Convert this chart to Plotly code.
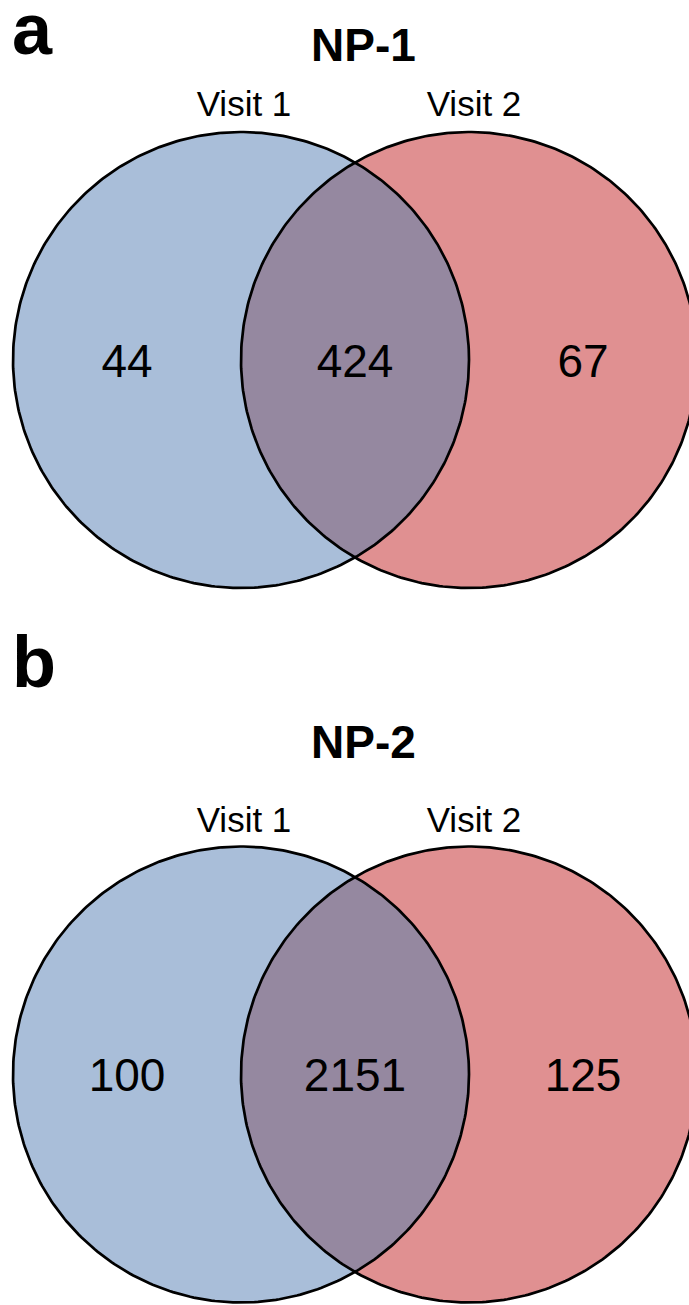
import numpy as np
import plotly.graph_objects as go

# ---- data ----
panel_letters = ["a", "b"]
panel_titles = ["NP-1", "NP-2"]
set_labels = ["Visit 1", "Visit 2"]
left_only = [44, 100]
shared = [424, 2151]
right_only = [67, 125]

# ---- styling / geometry (pixel-like data units) ----
W, H = 689, 1305
R = 228
CX_L, CX_R = 241, 469
CY = [360, 1074.5]
TITLE_Y = [45, 742]
LABEL_Y = [107, 823]
LETTER_Y = [29, 662]
BLUE = "rgb(169,190,217)"
RED = "rgb(224,144,145)"
MIX = "rgb(149,136,160)"
FONT = "Liberation Sans, Arial, Helvetica, sans-serif"

fig = go.Figure()

t = np.linspace(0, 2 * np.pi, 400)


def circle(cx, cy):
    return cx + R * np.cos(t), cy + R * np.sin(t)


def lens(cy):
    d = CX_R - CX_L
    a = d / 2
    h = np.sqrt(R**2 - a**2)
    ang = np.arcsin(h / R)
    a1 = np.linspace(-ang, ang, 200)
    x1 = CX_L + R * np.cos(a1)
    y1 = cy + R * np.sin(a1)
    a2 = np.linspace(np.pi - ang, np.pi + ang, 200)
    x2 = CX_R + R * np.cos(a2)
    y2 = cy + R * np.sin(a2)
    return np.concatenate([x1, x2]), np.concatenate([y1, y2])


annotations = []
for i in range(2):
    cy = CY[i]
    xl, yl = circle(CX_L, cy)
    xr, yr = circle(CX_R, cy)
    xm, ym = lens(cy)
    fig.add_trace(go.Scatter(x=xl, y=yl, fill="toself", fillcolor=BLUE, mode="none", hoverinfo="skip"))
    fig.add_trace(go.Scatter(x=xr, y=yr, fill="toself", fillcolor=RED, mode="none", hoverinfo="skip"))
    fig.add_trace(go.Scatter(x=xm, y=ym, fill="toself", fillcolor=MIX, mode="none", hoverinfo="skip"))
    for xs, ys in ((xl, yl), (xr, yr)):
        fig.add_trace(go.Scatter(x=xs, y=ys, mode="lines", line=dict(color="black", width=2.7), hoverinfo="skip"))

    left_edge_r = CX_R - R
    right_edge_l = CX_L + R
    xpos = [((CX_L - R) + left_edge_r) / 2, (CX_L + CX_R) / 2, (right_edge_l + CX_R + R) / 2]
    vals = [left_only[i], shared[i], right_only[i]]
    fig.add_trace(go.Scatter(
        x=xpos, y=[cy + 5] * 3, mode="text", text=[str(v) for v in vals],
        textfont=dict(family=FONT, size=46, color="black"), hoverinfo="skip"))
    fig.add_trace(go.Scatter(
        x=[244, 474], y=[LABEL_Y[i]] * 2, mode="text", text=set_labels,
        textfont=dict(family=FONT, size=35, color="black"), hoverinfo="skip"))
    annotations.append(dict(x=363, y=TITLE_Y[i], xref="x", yref="y", text="<b>%s</b>" % panel_titles[i],
                            showarrow=False, font=dict(family=FONT, size=46, color="black"),
                            xanchor="center", yanchor="middle"))
    annotations.append(dict(x=10, y=LETTER_Y[i], xref="x", yref="y", text="<b>%s</b>" % panel_letters[i],
                            showarrow=False, font=dict(family=FONT, size=72, color="black"),
                            xanchor="left", yanchor="middle"))

fig.update_layout(
    width=W, height=H, margin=dict(l=0, r=0, t=0, b=0),
    paper_bgcolor="white", plot_bgcolor="white", showlegend=False,
    xaxis=dict(range=[0, W], visible=False, fixedrange=True),
    yaxis=dict(range=[H, 0], visible=False, fixedrange=True),
    annotations=annotations,
)

fig.write_html("out.html", config={"displayModeBar": False},
               post_script="document.body.style.margin='0';document.body.style.overflow='hidden';")
